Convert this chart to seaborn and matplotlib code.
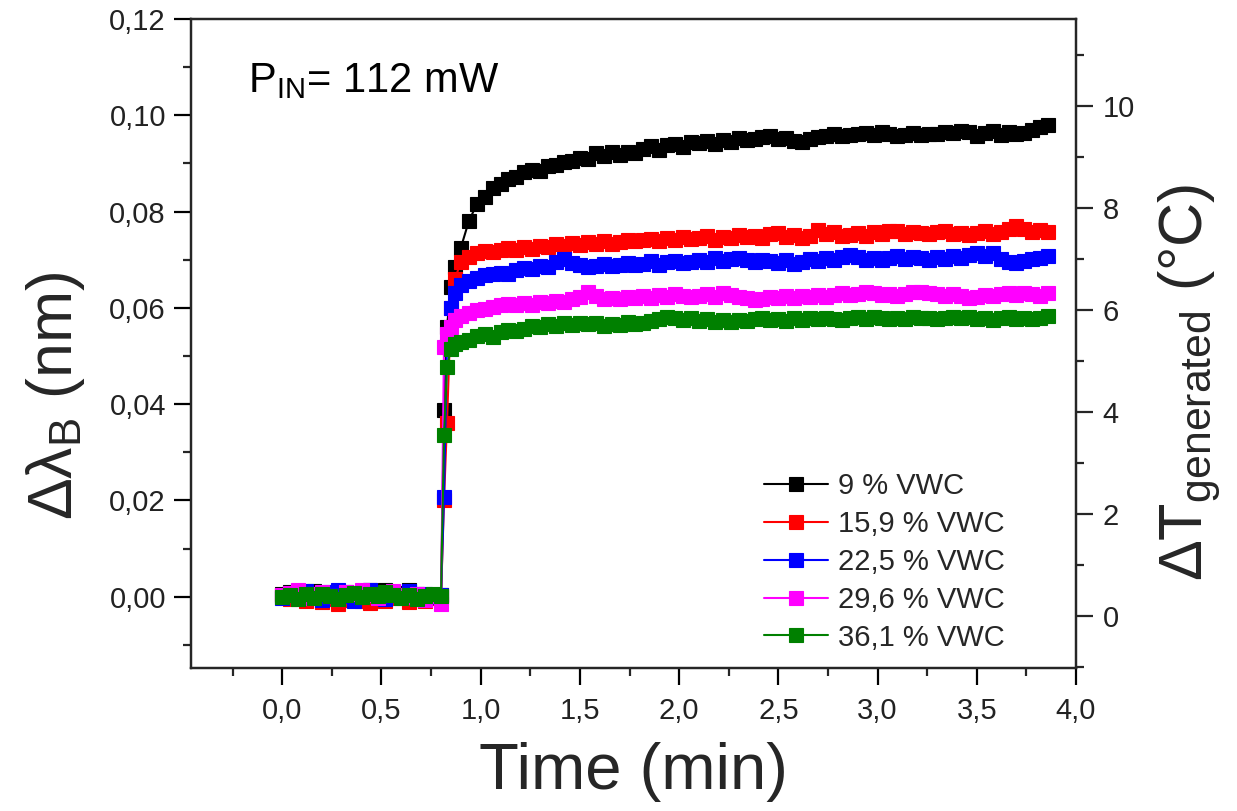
import numpy as np
import pandas as pd
import matplotlib
matplotlib.use("Agg")
import matplotlib.pyplot as plt
import seaborn as sns
from matplotlib.ticker import MultipleLocator, FuncFormatter

# ---------------- data ----------------
# sampling times (min): baseline, fast rise, then steady sampling
time_base = np.arange(0.0, 0.81, 0.04)
time_rise = [0.815, 0.83, 0.85, 0.87]
time_post = np.arange(0.90, 3.87, 0.04)
time_min = np.concatenate([time_base, time_rise, time_post])

# Bragg wavelength shift in pm (1 pm = 0.001 nm)
shift_9 = [0.5, 1.0, 0.2, 0.8, 1.2, 0.4, -0.3, 0.6, 1.0, 0.3, 0.9, 1.4, 0.7, 1.3, 0.2, 0.8, 1.5, 0.5, -0.2, 0.4, 0.3,
           38.8, 56.0, 64.4, 68.5,
           72.5, 78.0, 81.5, 83.0, 85.0, 85.8, 86.8, 87.2, 88.2, 88.6,
           88.4, 89.4, 89.6, 90.3, 90.5, 91.2, 91.0, 92.1, 91.6, 92.3,
           91.8, 92.4, 92.2, 93.0, 93.6, 92.8, 93.8, 94.0, 93.5, 94.4,
           94.2, 94.6, 94.0, 94.8, 94.5, 95.2, 94.8, 95.0, 95.4, 95.6,
           95.0, 95.3, 94.6, 94.5, 95.0, 95.4, 95.8, 96.2, 95.7, 95.9,
           96.1, 96.4, 96.0, 96.6, 96.2, 95.8, 96.0, 96.3, 95.9, 96.1,
           96.2, 96.6, 96.3, 96.8, 96.5, 95.8, 96.4, 96.7, 96.0, 96.5,
           96.2, 96.4, 97.0, 97.6, 98.0]
shift_15_9 = [0.2, -0.5, 0.3, -0.8, 0.0, -1.0, -0.4, -1.5, -0.6, 0.2, -0.9, -1.2, -0.3, -0.8, -0.2, 0.1, -1.0, -0.5, -0.8, -0.3, 0.0,
              20.0, 36.0, 60.0, 66.0,
              69.5, 70.5, 71.5, 71.8, 71.6, 72.0, 72.4, 72.0, 72.6, 72.2,
              72.8, 72.6, 73.2, 72.8, 73.4, 73.0, 73.6, 73.2, 73.8, 73.3,
              73.6, 74.2, 73.8, 74.0, 74.4, 73.8, 74.6, 74.0, 74.8, 74.3,
              74.6, 75.0, 74.2, 74.8, 74.5, 75.2, 74.7, 75.0, 74.6, 75.3,
              75.5, 74.8, 75.2, 74.6, 75.0, 76.1, 75.4, 75.8, 75.0, 75.2,
              75.6, 74.9, 75.7, 75.3, 75.9, 76.0, 75.4, 75.8, 75.5, 75.3,
              75.7, 75.9, 75.4, 75.6, 75.1, 75.5, 75.9, 75.3, 75.8, 76.4,
              77.0, 76.4, 75.8, 76.2, 75.8]
shift_22_5 = [-0.3, 0.6, -0.2, 1.2, 0.5, -0.6, 0.9, 1.5, 0.2, -0.8, 0.4, 1.3, 0.3, -0.4, 0.8, 0.2, 1.1, -0.2, 0.5, 0.0, 0.3,
              20.8, 52.0, 60.0, 63.0,
              64.8, 65.6, 66.2, 66.8, 67.0, 67.3, 67.1, 67.8, 68.2, 68.0,
              68.6, 68.4, 69.5, 70.2, 69.4, 68.9, 68.4, 68.8, 69.2, 68.7,
              69.0, 69.4, 68.9, 69.2, 69.7, 69.0, 69.5, 69.8, 69.3, 69.6,
              70.0, 69.6, 70.3, 69.8, 70.2, 70.4, 69.9, 69.5, 70.0, 69.7,
              69.4, 69.9, 69.2, 69.6, 70.1, 69.8, 70.4, 70.0, 70.6, 71.0,
              70.5, 69.9, 70.3, 70.0, 70.4, 70.8, 70.2, 70.6, 70.3, 70.0,
              70.5, 70.2, 70.7, 70.4, 71.0, 71.3, 70.7, 71.4, 70.1, 69.6,
              69.4, 69.8, 70.2, 70.4, 70.8]
shift_29_6 = [0.4, 0.8, 1.3, -0.3, 0.6, 1.0, 0.2, -0.5, 0.9, 0.5, 1.4, 0.3, -0.2, 0.7, 1.1, 0.4, 0.0, 0.6, -0.6, 0.2, -1.5,
              51.9, 54.5, 56.0, 57.5,
              58.4, 59.0, 59.6, 59.8, 60.2, 60.5, 60.9, 60.6, 61.0, 60.7,
              61.2, 61.0, 61.5, 61.3, 61.8, 62.2, 63.2, 62.4, 61.9, 62.1,
              61.8, 62.3, 62.0, 62.4, 62.1, 62.6, 62.3, 62.8, 62.4, 62.2,
              62.5, 62.8, 62.3, 63.0, 62.6, 62.2, 62.0, 61.7, 61.9, 62.2,
              62.0, 62.4, 62.1, 62.5, 62.2, 62.6, 62.3, 62.7, 63.0, 62.6,
              62.9, 63.4, 63.0, 62.6, 62.9, 62.5, 62.8, 63.2, 63.4, 63.0,
              62.8, 62.5, 62.9, 62.4, 62.0, 62.3, 62.7, 62.4, 62.9, 63.1,
              62.6, 63.0, 62.8, 62.4, 63.0]
shift_36_1 = [0.0, 0.3, -0.4, 0.5, -0.2, 0.6, 0.1, -0.5, 0.4, 0.8, -0.1, 0.5, 0.2, 0.9, 0.4, -0.3, 0.3, -0.4, 0.2, 0.6, 0.1,
              33.6, 47.8, 51.5, 52.5,
              53.0, 53.4, 54.2, 54.6, 54.0, 55.0, 55.4, 55.1, 55.6, 56.2,
              56.0, 56.6, 56.2, 56.8, 56.4, 56.9, 56.6, 56.8, 56.3, 56.7,
              56.5, 57.0, 56.6, 56.9, 57.2, 57.6, 58.1, 57.8, 57.4, 57.9,
              57.3, 57.6, 57.0, 57.4, 57.1, 57.5, 57.2, 57.6, 57.8, 57.4,
              57.7, 57.3, 57.8, 57.5, 57.9, 57.6, 58.0, 57.7, 57.4, 57.8,
              58.1, 57.7, 58.2, 57.9, 57.6, 58.0, 57.7, 58.2, 57.8, 58.0,
              57.6, 57.9, 58.2, 57.8, 58.1, 57.7, 58.0, 57.5, 57.9, 58.2,
              57.7, 58.0, 57.6, 57.9, 58.3]

series_labels = ["9 % VWC", "15,9 % VWC", "22,5 % VWC", "29,6 % VWC", "36,1 % VWC"]
series_values = [shift_9, shift_15_9, shift_22_5, shift_29_6, shift_36_1]
series_colors = ["#000000", "#ff0000", "#0000ff", "#ff00ff", "#008000"]

frames = []
for lab, vals in zip(series_labels, series_values):
    frames.append(pd.DataFrame({"time": time_min, "shift": np.array(vals) / 1000.0, "series": lab}))
df = pd.concat(frames, ignore_index=True)

# ---------------- style ----------------
sns.set_style("ticks")
plt.rcParams["font.family"] = ["Liberation Sans", "DejaVu Sans"]
plt.rcParams["mathtext.fontset"] = "custom"
plt.rcParams["mathtext.rm"] = "Liberation Sans"
plt.rcParams["mathtext.it"] = "Liberation Sans"
plt.rcParams["mathtext.default"] = "regular"

fig = plt.figure(figsize=(12.37, 8.11), dpi=100)
ax = fig.add_axes([191 / 1237, 1 - 668 / 811, (1076 - 191) / 1237, (668 - 19) / 811])

for lab, col in zip(series_labels, series_colors):
    sns.lineplot(data=df[df["series"] == lab], x="time", y="shift", ax=ax, color=col,
                 marker="s", markersize=10, markeredgecolor=col, markeredgewidth=0.8,
                 linewidth=1.5, estimator=None, sort=False, label=lab)

ax.set_xlim(-0.46, 4.0)
ax.set_ylim(-0.0148, 0.12)
ax.xaxis.set_major_locator(MultipleLocator(0.5))
ax.xaxis.set_minor_locator(MultipleLocator(0.25))
ax.yaxis.set_major_locator(MultipleLocator(0.02))
ax.yaxis.set_minor_locator(MultipleLocator(0.01))
ax.xaxis.set_major_formatter(FuncFormatter(lambda v, p: f"{v:.1f}".replace(".", ",")))
ax.yaxis.set_major_formatter(FuncFormatter(lambda v, p: f"{v:.2f}".replace(".", ",").replace("-", "\u2212")))

ax.tick_params(axis="both", which="major", direction="out", length=12, width=1.6,
               labelsize=21, color="black", labelcolor="#222222")
ax.tick_params(axis="both", which="minor", direction="out", length=6, width=1.6)
ax.tick_params(axis="x", which="major", pad=9)
ax.tick_params(axis="y", which="major", pad=6)
for s in ax.spines.values():
    s.set_linewidth(1.6)
    s.set_color("black")

ax.set_xlabel("Time (min)", fontsize=47, labelpad=12)
ax.set_ylabel("Δλ$_\\mathregular{B}$ (nm)", fontsize=45)
ax.yaxis.set_label_coords(-0.118, 0.42)

ax2 = ax.twinx()
ax2.set_ylim(-1.02, 11.7)
ax2.yaxis.set_major_locator(MultipleLocator(2))
ax2.yaxis.set_minor_locator(MultipleLocator(1))
ax2.tick_params(axis="y", which="major", direction="out", length=12, width=1.6,
                labelsize=21, labelcolor="#222222", pad=7)
ax2.tick_params(axis="y", which="minor", direction="out", length=6, width=1.6)
for s in ax2.spines.values():
    s.set_linewidth(1.6)
ax2.set_ylabel("ΔT$_\\mathregular{generated}$ (°C)", fontsize=44)
ax2.yaxis.set_label_coords(1.091, 0.44)

ax.text(248 / 1237, 1 - 92 / 811, "P$_\\mathregular{IN}$= 112 mW", transform=fig.transFigure,
        fontsize=30, color="black", ha="left", va="baseline")

ax.legend(loc="upper left", bbox_to_anchor=(764 / 1237, 1 - 472 / 811), bbox_transform=fig.transFigure,
          frameon=False, fontsize=21, handlelength=2.2, handletextpad=0.35, labelspacing=0.34,
          borderpad=0, borderaxespad=0, markerscale=1.0)

fig.savefig("out.png", dpi=100)
